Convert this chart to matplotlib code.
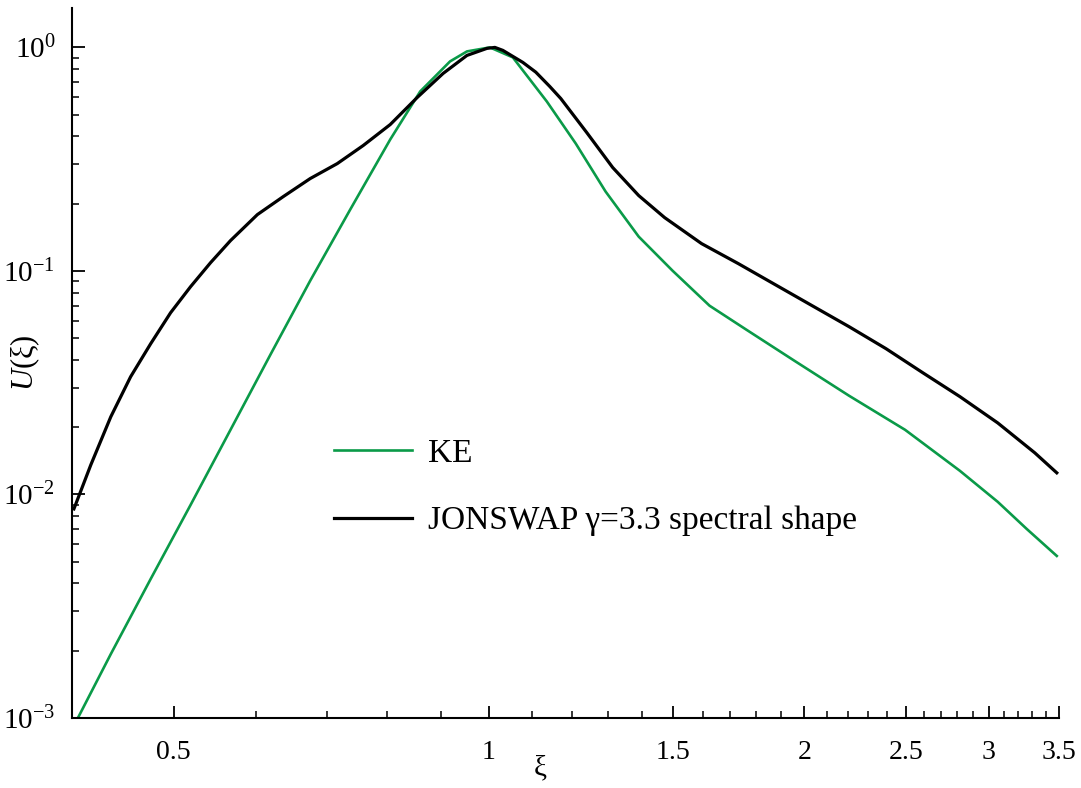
import numpy as np
import matplotlib
matplotlib.use("Agg")
from matplotlib import pyplot as plt
from matplotlib.ticker import FixedLocator, FuncFormatter, NullFormatter, LogLocator

plt.rcParams['font.family'] = ['Liberation Serif', 'DejaVu Serif']
plt.rcParams['mathtext.fontset'] = 'custom'
plt.rcParams['mathtext.rm'] = 'Liberation Serif'
plt.rcParams['mathtext.it'] = 'Liberation Serif:italic'

# KE curve
xi_ke = [0.4052, 0.4356, 0.4755, 0.5191, 0.5667, 0.6186, 0.6752, 0.7372,
         0.8050, 0.8598, 0.9181, 0.9529, 1.0022, 1.0540, 1.1356, 1.2102,
         1.2923, 1.3898, 1.4970, 1.6240, 1.7608, 1.9561, 2.2070, 2.4957,
         2.8154, 3.0594, 3.2609, 3.4834]
u_ke = [0.001, 0.001932, 0.004188, 0.008982, 0.01947, 0.04219, 0.09045, 0.1881,
        0.3873, 0.6353, 0.8656, 0.9596, 1.0, 0.902, 0.5731, 0.3716,
        0.2265, 0.1424, 0.1003, 0.0699, 0.0546, 0.0397, 0.02764, 0.01947,
        0.01276, 0.00927, 0.00701, 0.00531]

# JONSWAP gamma=3.3 spectral shape
xi_js = [0.4017, 0.4169, 0.4356, 0.4550, 0.4755, 0.4968, 0.5191, 0.5424,
         0.5667, 0.6012, 0.6364, 0.6752, 0.7166, 0.7586, 0.8050, 0.8542,
         0.9042, 0.9529, 0.9956, 1.0132, 1.0312, 1.0774, 1.1085, 1.1430,
         1.1710, 1.2397, 1.3126, 1.3898, 1.4714, 1.5958, 1.7302, 1.8764,
         2.0349, 2.2070, 2.3934, 2.5959, 2.8154, 3.0594, 3.3189, 3.4834]
u_js = [0.00862, 0.01357, 0.02226, 0.03362, 0.04725, 0.06504, 0.08505, 0.1089,
        0.1367, 0.1787, 0.2151, 0.2590, 0.3022, 0.3640, 0.4518, 0.5970,
        0.7647, 0.9208, 0.99, 1.0, 0.9696, 0.8568, 0.775, 0.6689,
        0.5909, 0.4163, 0.2902, 0.2174, 0.1732, 0.1325, 0.1078, 0.0868,
        0.0699, 0.0563, 0.0449, 0.0350, 0.0274, 0.0209, 0.01536, 0.0125]

x_major = [0.5, 1, 1.5, 2, 2.5, 3, 3.5]
x_labels = ['0.5', '1', '1.5', '2', '2.5', '3', '3.5']
x_minor = [0.6, 0.7, 0.8, 0.9, 1.1, 1.2, 1.3, 1.4, 1.6, 1.7, 1.8, 1.9,
           2.1, 2.2, 2.3, 2.4, 2.6, 2.7, 2.8, 2.9, 3.1, 3.2, 3.3, 3.4]


def xfmt(v, pos):
    for t, lab in zip(x_major, x_labels):
        if abs(v - t) < 1e-6:
            return lab
    return ''


fig = plt.figure(figsize=(10.81, 7.88), dpi=100)
ax = fig.add_axes([0.0666, 0.0888, 0.913, 0.901])

ax.plot(xi_ke, u_ke, color='#0a9a48', lw=1.9, label='KE')
ax.plot(xi_js, u_js, color='black', lw=2.3, label=u'JONSWAP γ=3.3 spectral shape')

ax.set_xscale('log')
ax.set_yscale('log')
ax.set_xlim(0.4, 3.5)
ax.set_ylim(1e-3, 1.5)

ax.xaxis.set_major_locator(FixedLocator(x_major))
ax.xaxis.set_major_formatter(FuncFormatter(xfmt))
ax.xaxis.set_minor_locator(FixedLocator(x_minor))
ax.xaxis.set_minor_formatter(NullFormatter())

ax.yaxis.set_major_locator(FixedLocator([1e-3, 1e-2, 1e-1, 1e0]))
ax.yaxis.set_major_formatter(FuncFormatter(lambda v, p: r'$\mathregular{10^{%d}}$' % round(np.log10(v))))
ax.yaxis.set_minor_locator(LogLocator(base=10, subs=np.arange(2, 10), numticks=20))
ax.yaxis.set_minor_formatter(NullFormatter())

for s in ['top', 'right']:
    ax.spines[s].set_visible(False)
for s in ['left', 'bottom']:
    ax.spines[s].set_linewidth(1.5)

ax.tick_params(which='major', direction='in', length=9, width=1.3)
ax.tick_params(which='minor', direction='in', length=5, width=1.1)
ax.tick_params(axis='x', which='major', pad=16, labelsize=20)
ax.tick_params(axis='y', which='major', pad=12, labelsize=21)

ax.set_xlabel(u'ξ', fontsize=21)
ax.xaxis.set_label_coords(0.474, -0.052)
ax.set_ylabel(u'$\\mathit{U}$(ξ)', fontsize=22)
ax.yaxis.set_label_coords(-0.030, 0.5)

ax.legend(loc='upper left', bbox_to_anchor=(0.265, 0.394), frameon=False,
          fontsize=24, handlelength=2.34, handletextpad=0.48, labelspacing=1.11,
          borderpad=0, borderaxespad=0)

fig.savefig('out.png', dpi=100)
